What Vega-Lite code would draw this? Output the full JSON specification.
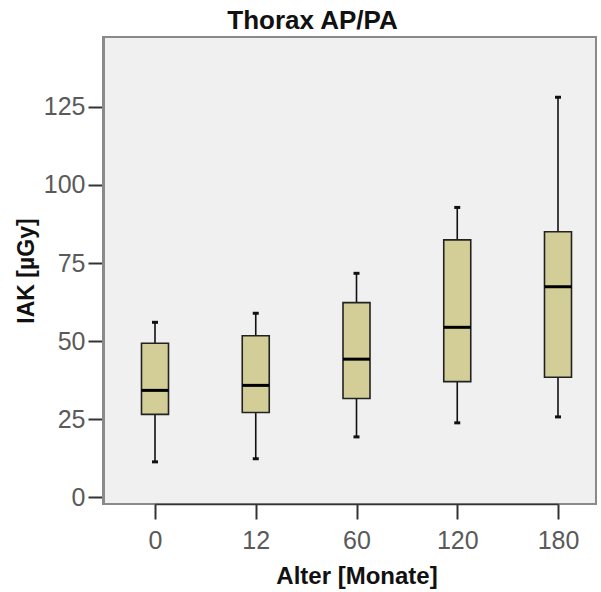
{
  "$schema": "https://vega.github.io/schema/vega-lite/v6.json",
  "autosize": {"type": "none"},
  "padding": {"left": 103, "top": 37, "right": 5, "bottom": 88},
  "width": 493,
  "height": 467,
  "background": "white",
  "title": {
    "text": "Thorax AP/PA",
    "font": "Liberation Sans",
    "fontSize": 26,
    "fontWeight": "bold",
    "color": "#111",
    "anchor": "middle",
    "dx": -37,
    "offset": 3
  },
  "config": {
    "view": {"fill": "#f0f0f0", "stroke": "#8a8a8a", "strokeWidth": 2},
    "axis": {
      "labelFont": "Liberation Sans",
      "labelFontSize": 25,
      "labelColor": "#5a5a5a",
      "titleFont": "Liberation Sans",
      "titleFontWeight": "bold",
      "titleColor": "#111",
      "tickColor": "#333",
      "tickWidth": 2,
      "tickSize": 15,
      "grid": false
    }
  },
  "data": {
    "values": [
      {"alter": "0", "min": 11.3, "q1": 26.5, "median": 34.2, "q3": 49.3, "max": 56.0},
      {"alter": "12", "min": 12.3, "q1": 27.1, "median": 35.8, "q3": 51.7, "max": 58.9},
      {"alter": "60", "min": 19.3, "q1": 31.6, "median": 44.2, "q3": 62.3, "max": 71.7},
      {"alter": "120", "min": 23.8, "q1": 37.0, "median": 54.4, "q3": 82.4, "max": 92.8},
      {"alter": "180", "min": 25.7, "q1": 38.4, "median": 67.4, "q3": 85.0, "max": 128.1}
    ]
  },
  "encoding": {
    "x": {
      "field": "alter",
      "type": "ordinal",
      "sort": ["0", "12", "60", "120", "180"],
      "scale": {"type": "point", "range": [52, 455], "padding": 0},
      "axis": {
        "title": "Alter [Monate]",
        "titleFontSize": 24,
        "labelAngle": 0,
        "labelPadding": 9,
        "titlePadding": 11,
        "domain": true,
        "domainColor": "#333",
        "domainWidth": 1.5
      }
    }
  },
  "layer": [
    {
      "mark": {"type": "rule", "color": "#111", "strokeWidth": 1.6},
      "encoding": {
        "y": {
          "field": "min",
          "type": "quantitative",
          "scale": {"domain": [-2.2, 147.4], "nice": false, "zero": false},
          "axis": {
            "title": "IAK [µGy]",
            "titleFontSize": 23,
            "values": [0, 25, 50, 75, 100, 125],
            "labelPadding": 3,
            "titlePadding": 5,
            "domain": true,
            "domainColor": "#8a8a8a",
            "domainWidth": 3
          }
        },
        "y2": {"field": "max"}
      }
    },
    {
      "mark": {"type": "bar", "size": 27, "fill": "#d3ce97", "stroke": "#222", "strokeWidth": 1.6},
      "encoding": {
        "y": {"field": "q1", "type": "quantitative"},
        "y2": {"field": "q3"}
      }
    },
    {
      "mark": {"type": "tick", "size": 27, "thickness": 3, "color": "#000", "opacity": 1},
      "encoding": {"y": {"field": "median", "type": "quantitative"}}
    },
    {
      "mark": {"type": "tick", "size": 6, "thickness": 3, "color": "#111", "opacity": 1},
      "encoding": {"y": {"field": "min", "type": "quantitative"}}
    },
    {
      "mark": {"type": "tick", "size": 6, "thickness": 3, "color": "#111", "opacity": 1},
      "encoding": {"y": {"field": "max", "type": "quantitative"}}
    }
  ]
}
